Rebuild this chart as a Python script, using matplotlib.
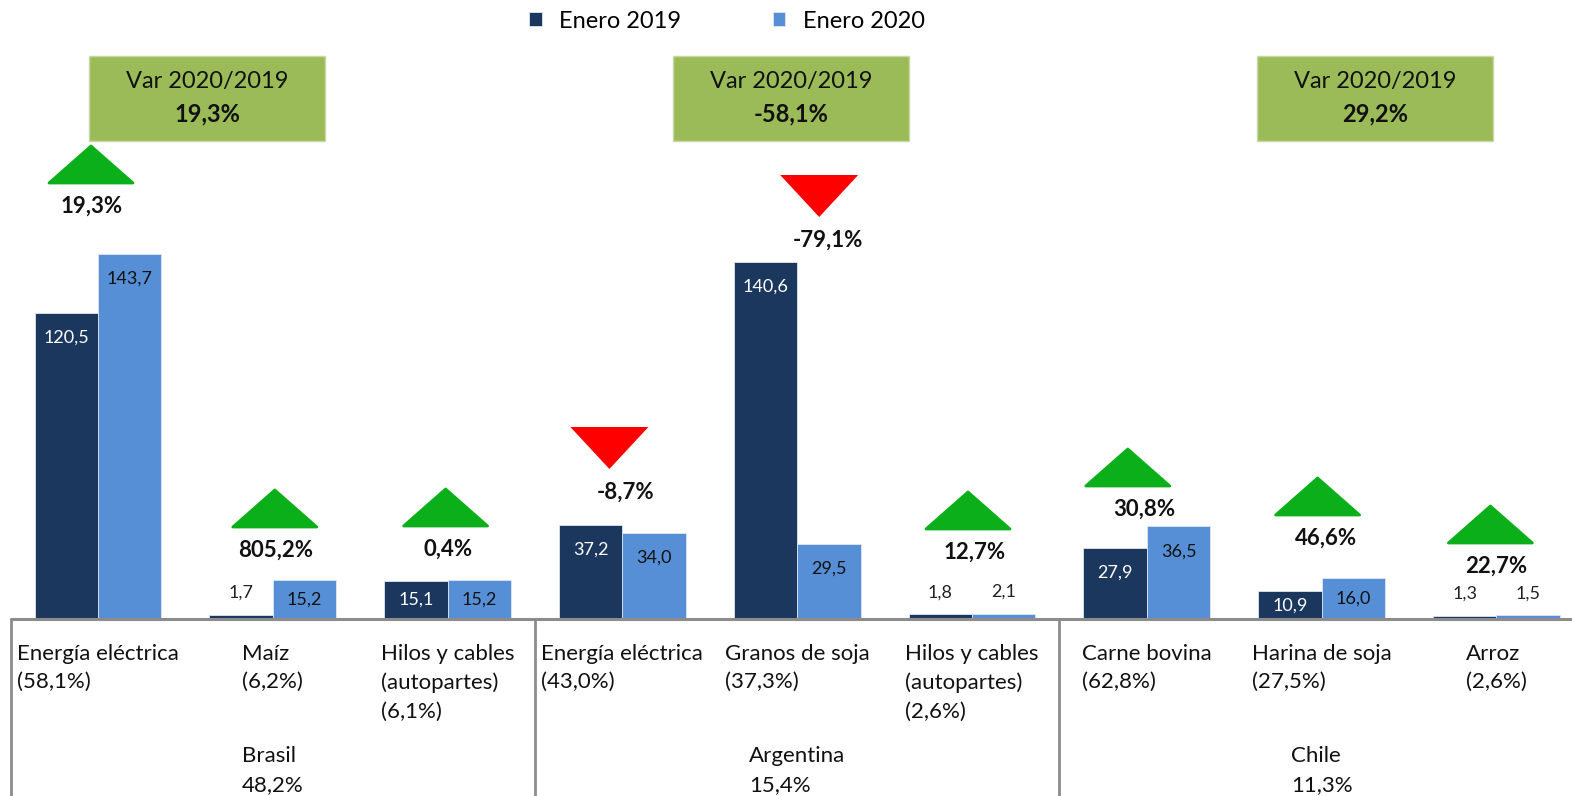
import numpy as np
import matplotlib.pyplot as plt
from matplotlib.patches import Polygon, Rectangle

plt.rcParams['font.family'] = ['Lato', 'DejaVu Sans']

# datos
productos = ["Energía eléctrica\n(58,1%)", "Maíz\n(6,2%)", "Hilos y cables\n(autopartes)\n(6,1%)",
             "Energía eléctrica\n(43,0%)", "Granos de soja\n(37,3%)", "Hilos y cables\n(autopartes)\n(2,6%)",
             "Carne bovina\n(62,8%)", "Harina de soja\n(27,5%)", "Arroz\n(2,6%)"]
enero_2019 = [120.5, 1.7, 15.1, 37.2, 140.6, 1.8, 27.9, 10.9, 1.3]
enero_2020 = [143.7, 15.2, 15.2, 34.0, 29.5, 2.1, 36.5, 16.0, 1.5]
variacion = ["19,3%", "805,2%", "0,4%", "-8,7%", "-79,1%", "12,7%", "30,8%", "46,6%", "22,7%"]
sube = [True, True, True, False, False, True, True, True, True]
paises = ["Brasil\n48,2%", "Argentina\n15,4%", "Chile\n11,3%"]
var_pais = ["19,3%", "-58,1%", "29,2%"]

# posiciones de las anotaciones (en pixeles de la imagen)
y_var_px = [206, 550, 549, 492, 240, 552, 509, 538, 566]
dx_tri_px = [-7, 2, -2, -13, 22, -4, -19, -4, -6]
dx_lbl_px = [-6, 3, 0, 3, 31, 3, -3, 4, 0]
x_caja_px = [207, 791, 1375]

C19 = '#1b375d'
C20 = '#568fd5'
VERDE = '#0aaf1a'
ROJO = '#ff0000'
CAJA = '#9bbb59'
GRIS = '#8c8c8c'

W, H = 1572, 796
PXX = 174.8   # pixeles por categoria
PXY = 2.54    # pixeles por unidad
X0 = 98       # centro de la primera categoria
Y0 = 619      # linea base

fig = plt.figure(figsize=(W / 100, H / 100), dpi=100)
ax = fig.add_axes([0, 0, 1, 1])
ax.set_xlim(-X0 / PXX, (W - X0) / PXX)
ax.set_ylim(-(H - Y0) / PXY, Y0 / PXY)
ax.axis('off')

def px2y(py):
    return (Y0 - py) / PXY

def px2x(px):
    return (px - X0) / PXX

x = np.arange(len(productos))
bw = 0.363
b1 = ax.bar(x - bw / 2, enero_2019, bw, color=C19, edgecolor='#dfe6ef', linewidth=0.6)
b2 = ax.bar(x + bw / 2, enero_2020, bw, color=C20, edgecolor='#dfe6ef', linewidth=0.6)

def etiqueta(xp, v, color_in):
    if v > 20:
        y, c = v - 9.8, color_in
    elif v > 8:
        y, c = v / 2, color_in
    else:
        y, c = v + 8.5, '#222222'
    ax.text(xp, y, f"{v:.1f}".replace('.', ','), ha='center', va='center',
            fontsize=13, color=c)

for i in range(len(productos)):
    etiqueta(x[i] - bw / 2, enero_2019[i], 'white')
    etiqueta(x[i] + bw / 2, enero_2020[i], '#111111')

# eje y separadores
ax.plot([-0.5, x[-1] + 1], [0, 0], color=GRIS, lw=2.2, solid_capstyle='butt')
for xs in [-0.5, 2.5, 5.5]:
    ax.plot([xs, xs], [0, px2y(H + 5)], color=GRIS, lw=2)

for i, lab in enumerate(productos):
    ax.text(x[i], px2y(644), lab, ha='center', va='top', multialignment='left',
            fontsize=16, color='#111111', linespacing=1.52)

for g, lab in enumerate(paises):
    ax.text(x[3 * g + 1], px2y(746), lab, ha='center', va='top', multialignment='left',
            fontsize=16, color='#111111', linespacing=1.55)

# triangulos y variaciones
tw = 84 / PXX
for i in range(len(productos)):
    yl = px2y(y_var_px[i])
    xl = x[i] + dx_lbl_px[i] / PXX
    xt = x[i] + dx_tri_px[i] / PXX
    ax.text(xl, yl, variacion[i], ha='center', va='center', fontsize=16,
            fontweight='bold', color='#111111')
    base = yl + 23 / PXY
    if sube[i]:
        h = 37 / PXY
        pts = [(xt - tw / 2, base), (xt + tw / 2, base), (xt, base + h)]
        ax.add_patch(Polygon(pts, closed=True, facecolor=VERDE, edgecolor=VERDE,
                             lw=2, joinstyle='round'))
    else:
        h = 42 / PXY
        tw2 = 78 / PXX
        pts = [(xt - tw2 / 2, base + h), (xt + tw2 / 2, base + h), (xt, base)]
        ax.add_patch(Polygon(pts, closed=True, facecolor=ROJO, edgecolor='none'))

# cajas de variacion por pais
for g, v in enumerate(var_pais):
    cx = px2x(x_caja_px[g])
    ax.add_patch(Rectangle((cx - 118 / PXX, px2y(141)), 236 / PXX, 85 / PXY,
                           facecolor=CAJA, edgecolor='#c9d9a6', lw=1))
    ax.text(cx, px2y(82), "Var 2020/2019", ha='center', va='center', fontsize=17, color='#111111')
    ax.text(cx, px2y(114), v, ha='center', va='center', fontsize=17, fontweight='bold',
            color='#111111')

# leyenda
fig.legend([b1, b2], ["Enero 2019", "Enero 2020"], loc='center', bbox_to_anchor=(727 / W, 1 - 21 / H),
           ncol=2, frameon=False, fontsize=17, handlelength=0.55, handleheight=0.55,
           columnspacing=3.85, handletextpad=0.75)

fig.savefig('out.png', dpi=100)
